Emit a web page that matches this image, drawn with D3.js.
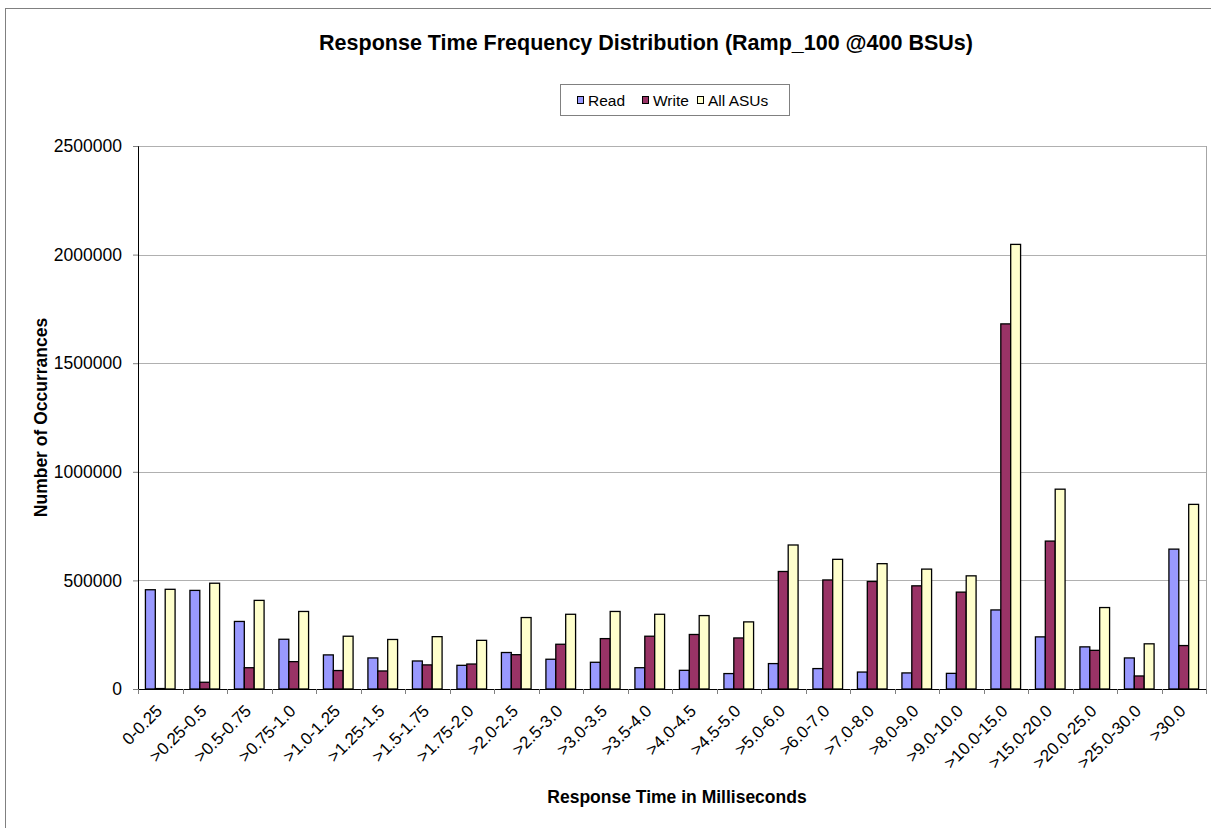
<!DOCTYPE html>
<html>
<head>
<meta charset="utf-8">
<script src="https://cdn.jsdelivr.net/npm/d3@7"></script>
<style>
  body { margin: 0; background: #fff; }
  text { font-family: "Liberation Sans", Arial, sans-serif; }
</style>
</head>
<body>
<div id="chart"></div>
<script>
// categories (response time buckets, ms)
const categories = ["0-0.25", ">0.25-0.5", ">0.5-0.75", ">0.75-1.0", ">1.0-1.25", ">1.25-1.5",
  ">1.5-1.75", ">1.75-2.0", ">2.0-2.5", ">2.5-3.0", ">3.0-3.5", ">3.5-4.0", ">4.0-4.5",
  ">4.5-5.0", ">5.0-6.0", ">6.0-7.0", ">7.0-8.0", ">8.0-9.0", ">9.0-10.0", ">10.0-15.0",
  ">15.0-20.0", ">20.0-25.0", ">25.0-30.0", ">30.0"];

// series values
const readValues = [457000, 454000, 311000, 229000, 157000, 143000, 129000, 109000, 168000, 137000,
  123000, 98000, 86000, 71000, 117000, 94000, 78000, 74000, 72000, 364000, 240000, 194000, 143000, 644000];
const writeValues = [2000, 31000, 98000, 126000, 85000, 83000, 111000, 115000, 158000, 206000,
  232000, 243000, 251000, 235000, 541000, 502000, 495000, 475000, 446000, 1681000, 681000, 178000, 60000, 200000];
const allValues = [459000, 487000, 408000, 357000, 243000, 228000, 241000, 224000, 329000, 344000,
  357000, 344000, 338000, 309000, 663000, 597000, 577000, 552000, 521000, 2047000, 920000, 375000, 208000, 850000];

const seriesNames = ["Read", "Write", "All ASUs"];
const yTicks = [0, 500000, 1000000, 1500000, 2000000, 2500000];

const color = d3.scaleOrdinal()
  .domain(seriesNames)
  .range(["#9999FF", "#993366", "#FFFFCC"]);

const rows = categories.map((c, i) => ({
  category: c,
  values: [readValues[i], writeValues[i], allValues[i]]
}));

const width = 1211;
const height = 828;
const plot = { left: 138, top: 146, right: 1206, bottom: 689 };

const svg = d3.select("#chart")
  .append("svg")
  .attr("width", width)
  .attr("height", height);

// outer chart border
svg.append("rect")
  .attr("x", 5.5).attr("y", 8.5)
  .attr("width", width + 20).attr("height", height + 20)
  .attr("fill", "none")
  .attr("stroke", "#808080");

// scales
const x0 = d3.scaleBand()
  .domain(categories)
  .range([plot.left, plot.right])
  .paddingInner(1.5 / 4.5)
  .paddingOuter(0.75 / 4.5);

const x1 = d3.scaleBand()
  .domain(seriesNames)
  .range([0, x0.bandwidth()]);

const y = d3.scaleLinear()
  .domain([0, 2500000])
  .range([plot.bottom, plot.top]);

// gridlines
svg.append("g")
  .selectAll("line")
  .data(yTicks.slice(1))
  .enter()
  .append("line")
  .attr("x1", plot.left).attr("x2", plot.right)
  .attr("y1", d => Math.round(y(d)) + 0.5)
  .attr("y2", d => Math.round(y(d)) + 0.5)
  .attr("stroke", "#b0b0b0");

// plot area right edge
svg.append("line")
  .attr("x1", plot.right + 0.5).attr("x2", plot.right + 0.5)
  .attr("y1", plot.top).attr("y2", plot.bottom)
  .attr("stroke", "#a6a6a6");

// bars
const group = svg.selectAll(".group")
  .data(rows)
  .enter()
  .append("g")
  .attr("class", "group")
  .attr("transform", d => `translate(${x0(d.category)},0)`);

group.selectAll("rect")
  .data(d => d.values.map((v, i) => ({ key: seriesNames[i], value: v })))
  .enter()
  .append("rect")
  .attr("x", d => x1(d.key))
  .attr("y", d => y(d.value))
  .attr("width", x1.bandwidth())
  .attr("height", d => y(0) - y(d.value))
  .attr("fill", d => color(d.key))
  .attr("stroke", "#000")
  .attr("stroke-width", 1.3);

// y axis
const yAxis = svg.append("g")
  .attr("transform", `translate(${plot.left},0)`)
  .call(d3.axisLeft(y).tickValues(yTicks).tickFormat(d3.format("d")).tickSize(5).tickPadding(11));
yAxis.select(".domain").attr("stroke", "#000");
yAxis.selectAll(".tick line").attr("stroke", "#808080");
yAxis.selectAll("text")
  .attr("font-size", "17.5px")
  .attr("font-family", "Liberation Sans, Arial, sans-serif")
  .attr("fill", "#000");

// x axis (ticks between categories)
const xAxis = svg.append("g")
  .attr("transform", `translate(0,${plot.bottom})`)
  .call(d3.axisBottom(x0).tickSize(0).tickFormat(""));
xAxis.select(".domain").attr("stroke", "#000");

svg.append("g")
  .selectAll("line")
  .data(categories.concat(["end"]))
  .enter()
  .append("line")
  .attr("x1", (d, i) => Math.round(plot.left + i * x0.step()) + 0.5)
  .attr("x2", (d, i) => Math.round(plot.left + i * x0.step()) + 0.5)
  .attr("y1", plot.bottom)
  .attr("y2", plot.bottom + 5)
  .attr("stroke", "#808080");

// rotated category labels
svg.append("g")
  .selectAll("text")
  .data(categories)
  .enter()
  .append("text")
  .attr("transform", d => `translate(${x0(d) + x0.bandwidth() / 2 + 3},${plot.bottom + 23}) rotate(-45)`)
  .attr("text-anchor", "end")
  .attr("font-size", "17px")
  .text(d => d);

// title
svg.append("text")
  .attr("x", 646)
  .attr("y", 50)
  .attr("text-anchor", "middle")
  .attr("font-size", "21.5px")
  .attr("font-weight", "bold")
  .text("Response Time Frequency Distribution (Ramp_100 @400 BSUs)");

// axis titles
svg.append("text")
  .attr("x", 677)
  .attr("y", 803)
  .attr("text-anchor", "middle")
  .attr("font-size", "17.5px")
  .attr("font-weight", "bold")
  .text("Response Time in Milliseconds");

svg.append("text")
  .attr("transform", `translate(47,${(plot.top + plot.bottom) / 2}) rotate(-90)`)
  .attr("text-anchor", "middle")
  .attr("font-size", "17.5px")
  .attr("font-weight", "bold")
  .text("Number of Occurrances");

// legend
const legend = svg.append("g");
legend.append("rect")
  .attr("x", 560.5).attr("y", 84.5)
  .attr("width", 229).attr("height", 31)
  .attr("fill", "#fff")
  .attr("stroke", "#808080");

const legendX = [577, 642, 697];
seriesNames.forEach((name, i) => {
  legend.append("rect")
    .attr("x", legendX[i] + 0.5).attr("y", 96.5)
    .attr("width", 6).attr("height", 7)
    .attr("fill", color(name))
    .attr("stroke", "#000");
  legend.append("text")
    .attr("x", legendX[i] + 11)
    .attr("y", 106)
    .attr("font-size", "15.5px")
    .text(name);
});
</script>
</body>
</html>
